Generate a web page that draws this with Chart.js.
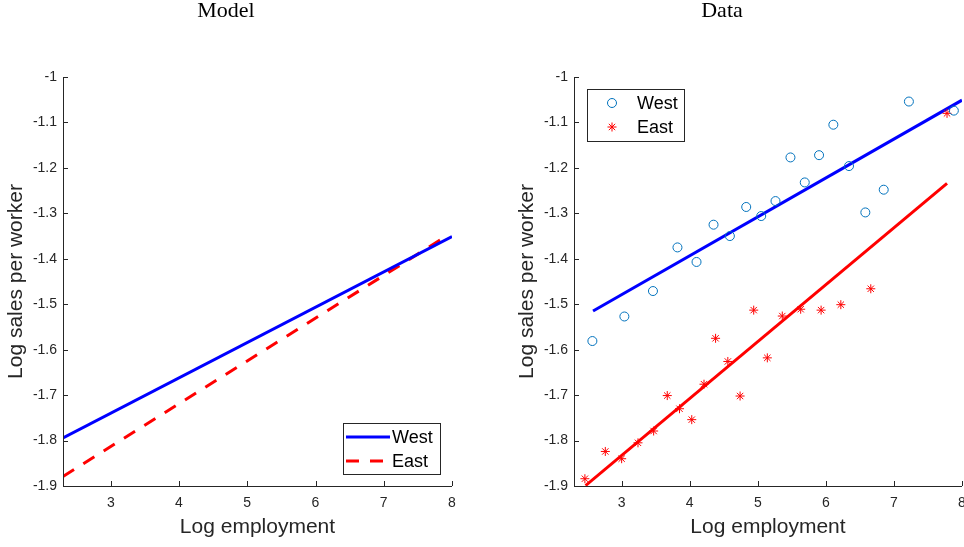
<!DOCTYPE html>
<html>
<head>
<meta charset="utf-8">
<script src="https://cdn.jsdelivr.net/npm/chart.js@4.4.1/dist/chart.umd.min.js"></script>
<style>
  html, body { margin: 0; padding: 0; background: #fff; }
  .panel { position: absolute; top: 0; width: 482px; height: 547px; }
  #left { left: 0; }
  #right { left: 482px; }
</style>
</head>
<body>
<div class="panel" id="left"><canvas id="model"></canvas></div>
<div class="panel" id="right"><canvas id="data"></canvas></div>
<script>
// ---- values ----
const xTicks = [3, 4, 5, 6, 7, 8];
const yTicks = [-1, -1.1, -1.2, -1.3, -1.4, -1.5, -1.6, -1.7, -1.8, -1.9];

// Model panel: two straight lines
const modelWestX = [2.3, 8.0];
const modelWestY = [-1.794, -1.351];
const modelEastX = [2.3, 7.92];
const modelEastY = [-1.879, -1.350];

// Data panel: scatter + fitted lines
const dataWestX = [2.57, 3.04, 3.46, 3.82, 4.10, 4.35, 4.59, 4.83, 5.05, 5.26,
  5.48, 5.69, 5.90, 6.11, 6.34, 6.58, 6.85, 7.22, 7.88];
const dataWestY = [-1.581, -1.527, -1.471, -1.375, -1.407, -1.325, -1.350, -1.286, -1.306, -1.273,
  -1.177, -1.232, -1.172, -1.105, -1.196, -1.298, -1.248, -1.054, -1.074];
const dataEastX = [2.46, 2.76, 3.00, 3.24, 3.47, 3.67, 3.85, 4.03, 4.21, 4.38,
  4.56, 4.74, 4.94, 5.14, 5.36, 5.63, 5.93, 6.22, 6.66, 7.78];
const dataEastY = [-1.884, -1.824, -1.840, -1.805, -1.779, -1.701, -1.730, -1.754, -1.676, -1.575,
  -1.626, -1.702, -1.513, -1.618, -1.526, -1.511, -1.513, -1.501, -1.466, -1.080];
const fitWestX = [2.58, 8.0];
const fitWestY = [-1.515, -1.051];
const fitEastX = [2.47, 7.78];
const fitEastY = [-1.899, -1.234];

const AXIS = "#262626";
const SANS = "'Liberation Sans', Arial, sans-serif";
const SERIF = "'Liberation Serif', 'DejaVu Serif', serif";

const pts = (xs, ys) => xs.map((x, i) => ({ x, y: ys[i] }));

// MATLAB-like axes: left + bottom lines with inward ticks
const axesPlugin = {
  id: "matAxes",
  afterDatasetsDraw(chart) {
    const { ctx, chartArea: ca, scales: { x, y } } = chart;
    ctx.save();
    ctx.strokeStyle = AXIS;
    ctx.lineWidth = 1;
    ctx.beginPath();
    ctx.moveTo(ca.left + 0.5, ca.top);
    ctx.lineTo(ca.left + 0.5, ca.bottom + 0.5);
    ctx.lineTo(ca.right, ca.bottom + 0.5);
    xTicks.forEach(v => {
      const px = Math.round(x.getPixelForValue(v)) + 0.5;
      ctx.moveTo(px, ca.bottom);
      ctx.lineTo(px, ca.bottom - 5);
    });
    yTicks.forEach(v => {
      const py = Math.round(y.getPixelForValue(v)) + 0.5;
      ctx.moveTo(ca.left, py);
      ctx.lineTo(ca.left + 5, py);
    });
    ctx.stroke();
    ctx.restore();
  },
};

// boxed legend placed inside the plot, like MATLAB
const legendPlugin = {
  id: "boxLegend",
  afterDraw(chart, _args, o) {
    if (!o.items) return;
    const ctx = chart.ctx;
    ctx.save();
    ctx.fillStyle = "#fff";
    ctx.fillRect(o.x, o.y, o.w, o.h);
    ctx.strokeStyle = AXIS;
    ctx.lineWidth = 1;
    ctx.strokeRect(o.x + 0.5, o.y + 0.5, o.w, o.h);
    o.items.forEach((it, i) => {
      const ds = chart.data.datasets[it.ds];
      const cy = o.y + o.row0 + i * o.rowH;
      if (it.kind === "line") {
        ctx.strokeStyle = ds.borderColor;
        ctx.lineWidth = ds.borderWidth;
        ctx.setLineDash(ds.borderDash || []);
        ctx.beginPath();
        ctx.moveTo(o.x + 3, cy);
        ctx.lineTo(o.x + 47, cy);
        ctx.stroke();
        ctx.setLineDash([]);
      } else {
        ctx.strokeStyle = ds.pointBorderColor;
        ctx.fillStyle = "rgba(0,0,0,0)";
        ctx.lineWidth = ds.pointBorderWidth;
        Chart.helpers.drawPoint(ctx, {
          pointStyle: ds.pointStyle, radius: ds.pointRadius, borderWidth: ds.pointBorderWidth,
        }, o.x + 25, cy);
      }
      ctx.fillStyle = "#000";
      ctx.font = "18px " + SANS;
      ctx.textBaseline = "middle";
      ctx.fillText(ds.label, o.x + o.textX, cy + 1);
    });
    ctx.restore();
  },
};

function scalesFor(yWidth, yTitlePad) {
  return {
    x: {
      type: "linear", min: 2.3, max: 8,
      afterBuildTicks: s => { s.ticks = xTicks.map(v => ({ value: v })); },
      afterFit: s => { s.height = 61; s.paddingLeft = 0; s.paddingRight = 0; },
      grid: { display: false, drawTicks: false },
      border: { display: false },
      ticks: { color: AXIS, font: { family: SANS, size: 14 }, padding: 9, maxRotation: 0 },
      title: { display: true, text: "Log employment", color: AXIS,
        font: { family: SANS, size: 21 }, padding: { top: 0, bottom: 7 } },
    },
    y: {
      type: "linear", min: -1.9, max: -1,
      afterBuildTicks: s => { s.ticks = yTicks.map(v => ({ value: v })); },
      afterFit: s => { s.width = yWidth; s.paddingTop = 0; s.paddingBottom = 0; },
      grid: { display: false, drawTicks: false },
      border: { display: false },
      ticks: { color: AXIS, font: { family: SANS, size: 14 }, padding: 6,
        callback: v => String(Math.round(v * 10) / 10) },
      title: { display: true, text: "Log sales per worker", color: AXIS,
        font: { family: SANS, size: 21 }, padding: { top: yTitlePad, bottom: 0 } },
    },
  };
}

function baseOptions(title, yWidth, yTitlePad, padRight, legend) {
  return {
    responsive: true, maintainAspectRatio: false, animation: false,
    layout: { autoPadding: false, padding: { top: 0, left: 0, bottom: 0, right: padRight } },
    plugins: {
      legend: { display: false },
      tooltip: { enabled: false },
      title: { display: true, text: title, color: "#000",
        font: { family: SERIF, size: 22, weight: "normal", lineHeight: 1 },
        padding: { top: 0, bottom: 55 } },
      boxLegend: legend,
    },
    scales: scalesFor(yWidth, yTitlePad),
  };
}

// ---- Model ----
new Chart(document.getElementById("model"), {
  type: "scatter",
  data: {
    datasets: [
      { label: "West", data: pts(modelWestX, modelWestY), showLine: true,
        borderColor: "#0000ff", borderWidth: 3, pointRadius: 0 },
      { label: "East", data: pts(modelEastX, modelEastY), showLine: true,
        borderColor: "#ff0000", borderWidth: 3, borderDash: [13, 11], pointRadius: 0 },
    ],
  },
  options: baseOptions("Model", 63, 4, 30, {
    x: 343, y: 423, w: 97, h: 51, row0: 14, rowH: 24, textX: 49,
    items: [{ ds: 0, kind: "line" }, { ds: 1, kind: "line" }],
  }),
  plugins: [axesPlugin, legendPlugin],
});

// ---- Data ----
new Chart(document.getElementById("data"), {
  type: "scatter",
  data: {
    datasets: [
      { label: "West", data: pts(dataWestX, dataWestY),
        pointStyle: "circle", pointRadius: 4.5, pointBorderWidth: 1,
        pointBorderColor: "#0072bd", pointBackgroundColor: "rgba(0,0,0,0)" },
      { label: "East", data: pts(dataEastX, dataEastY),
        pointStyle: "star", pointRadius: 4.5, pointBorderWidth: 1,
        pointBorderColor: "#ff0000", pointBackgroundColor: "rgba(0,0,0,0)" },
      { label: "fitWest", data: pts(fitWestX, fitWestY), showLine: true,
        borderColor: "#0000ff", borderWidth: 3, pointRadius: 0 },
      { label: "fitEast", data: pts(fitEastX, fitEastY), showLine: true,
        borderColor: "#ff0000", borderWidth: 3, pointRadius: 0 },
    ],
  },
  options: baseOptions("Data", 92, 33, 2, {
    x: 105, y: 89, w: 97, h: 52, row0: 14, rowH: 24, textX: 50,
    items: [{ ds: 0, kind: "point" }, { ds: 1, kind: "point" }],
  }),
  plugins: [axesPlugin, legendPlugin],
});
</script>
</body>
</html>
